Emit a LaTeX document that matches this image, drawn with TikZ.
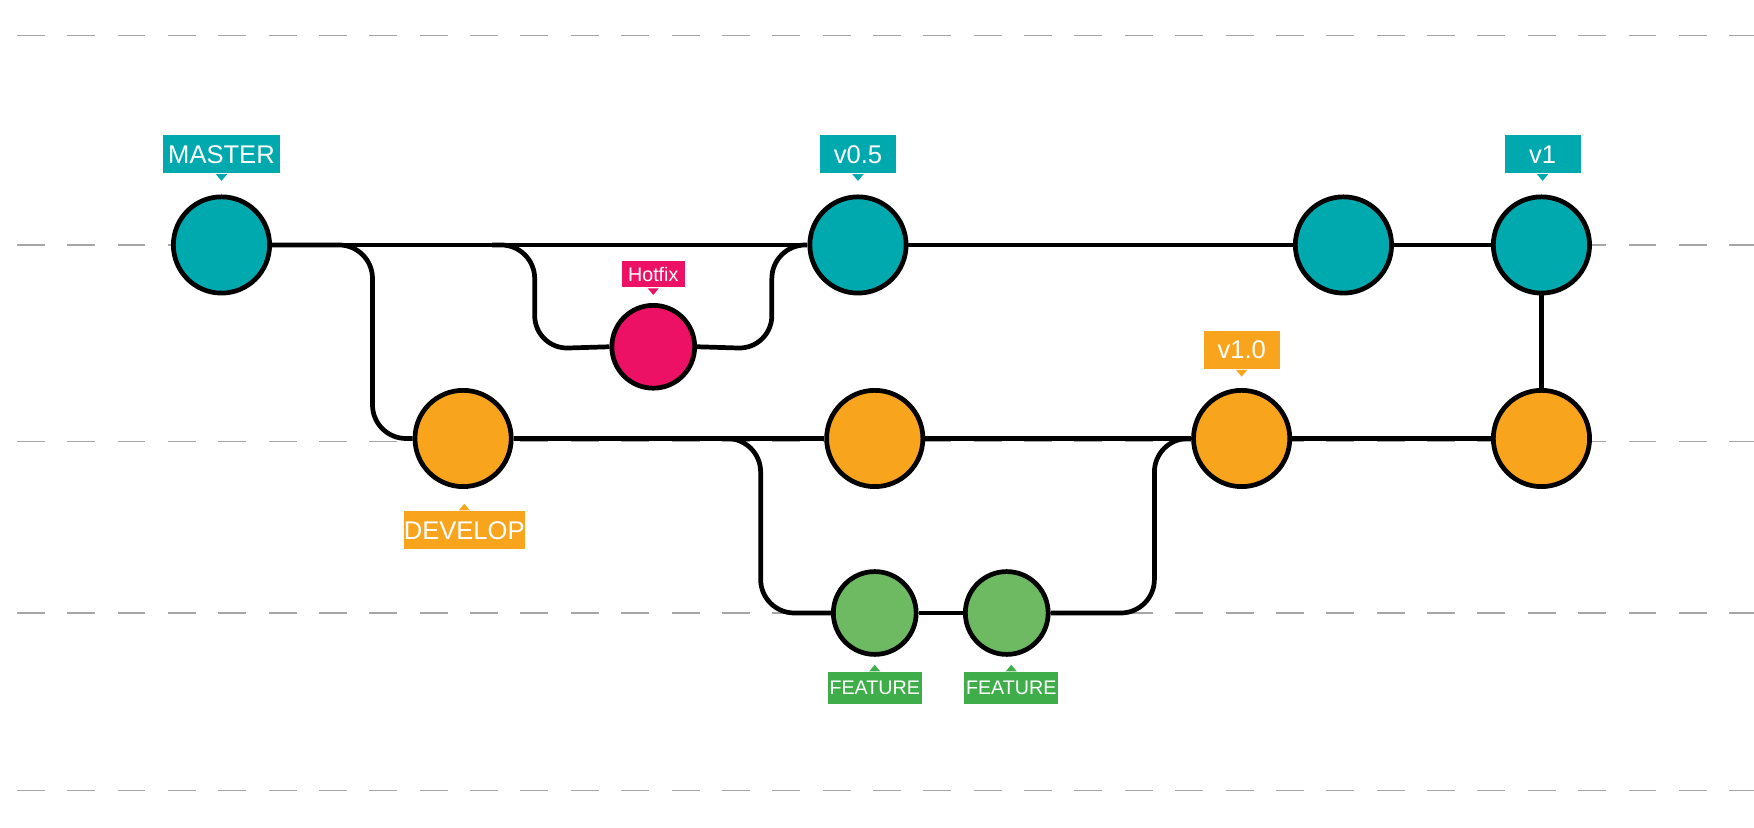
\documentclass[tikz,border=0pt]{standalone}
\usepackage{fontspec}
\setmainfont{Liberation Sans}
\usetikzlibrary{positioning,calc}
\definecolor{teal}{HTML}{00A9AE}
\definecolor{orng}{HTML}{F8A51D}
\definecolor{mgnt}{HTML}{EC1164}
\definecolor{grn}{HTML}{6DBA63}
\definecolor{tgrn}{HTML}{3FAE4A}
\tikzset{
  commit/.style={circle,draw=black,line width=1.2pt,minimum size=#1,inner sep=0pt},
  conn/.style={line width=1.2pt,rounded corners=0.3cm},
  grid/.style={gray!70,line width=0.3pt,dash pattern=on 0.25cm off 0.2cm},
  tag/.style={fill=#1,text=white,inner sep=0pt,minimum height=0.34cm,font=\fontsize{6.5}{7}\selectfont},
}
\begin{document}
\begin{tikzpicture}[x=0.01cm,y=-0.01cm]
\useasboundingbox (0,0) rectangle (1568,740);
% background lines
\foreach \yy in {32,219,395,548,707}
  \draw[grid] (15,\yy) -- (1568,\yy);
% commits
\node[commit=0.86cm,fill=teal] (m1) at (198,219) {};
\node[commit=0.86cm,fill=teal] (m2) at (767,219) {};
\node[commit=0.86cm,fill=teal] (m3) at (1201,219) {};
\node[commit=0.86cm,fill=teal] (m4) at (1378,219) {};
\node[commit=0.74cm,fill=mgnt] (h1) at (584,310) {};
\node[commit=0.86cm,fill=orng] (d1) at (414,392) {};
\node[commit=0.86cm,fill=orng] (d2) at (782,392) {};
\node[commit=0.86cm,fill=orng] (d3) at (1110,392) {};
\node[commit=0.86cm,fill=orng] (d4) at (1378,392) {};
\node[commit=0.74cm,fill=grn] (f1) at (782,548) {};
\node[commit=0.74cm,fill=grn] (f2) at (900,548) {};
% tags
\node[tag=teal,minimum width=1.05cm] (tm) at (198,138) {MASTER};
\node[tag=teal,minimum width=0.68cm] (t05) at (767,138) {v0.5};
\node[tag=teal,minimum width=0.68cm] (t1) at (1379,138) {v1};
\node[tag=mgnt,minimum width=0.56cm,minimum height=0.24cm,font=\fontsize{5}{6}\selectfont] (th) at (584,245) {Hotfix};
\node[tag=orng,minimum width=0.68cm] (t10) at (1110,313) {v1.0};
\node[tag=orng,minimum width=1.05cm] (td) at (415,474) {DEVELOP};
\node[tag=tgrn,minimum width=0.84cm,minimum height=0.28cm,font=\fontsize{5}{6}\selectfont] (tf1) at (782,615) {FEATURE};
\node[tag=tgrn,minimum width=0.84cm,minimum height=0.28cm,font=\fontsize{5}{6}\selectfont] (tf2) at (904,615) {FEATURE};
\foreach \t/\c in {tm/teal,t05/teal,t1/teal,th/mgnt,t10/orng}
  \fill[\c] ($(\t.south)+(-5,0)$) -- ++(10,0) -- ++(-5,6) -- cycle;
\foreach \t/\c in {td/orng,tf1/tgrn,tf2/tgrn}
  \fill[\c] ($(\t.north)+(-5,0)$) -- ++(10,0) -- ++(-5,-6) -- cycle;
% connectors
\coordinate (hb) at (440,219);
\draw[conn] (m1) -- (m2);
\draw[conn] (m2) -- (m3);
\draw[conn] (m3) -- (m4);
\draw[conn] (m4) -- (d4);
\draw[conn] (m1.east) -- (333,219) -- (333,392) -- (d1.west);
\draw[conn] (hb) -- (478,219) -- (478,312) -- (h1.west);
\draw[conn] (h1.east) -- (690,312) -- (690,219) -- (m2.west);
\draw[conn] (d1) -- (d2);
\draw[conn] (d2) -- (d3);
\draw[conn] (d3) -- (d4);
\coordinate (fb) at (620,392);
\draw[conn] (fb) -- (680,392) -- (680,548) -- (f1.west);
\draw[conn] (f1) -- (f2);
\draw[conn] (f2.east) -- (1032,548) -- (1032,392) -- (d3.west);
\end{tikzpicture}
\end{document}
